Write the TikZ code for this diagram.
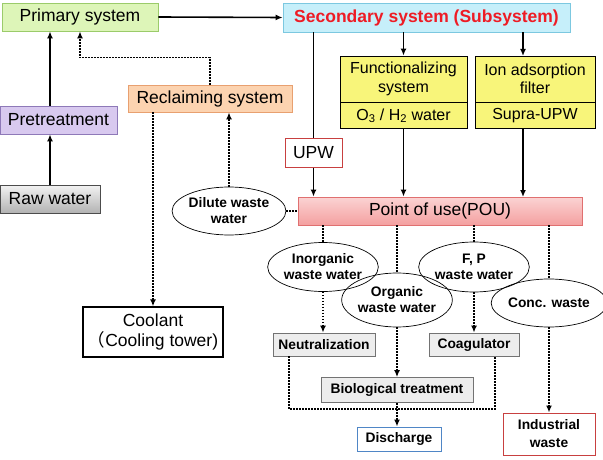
\documentclass[tikz,border=0pt]{standalone}
\usepackage{fontspec}
\setmainfont{Liberation Sans}
\newfontfamily\cjk{Noto Sans CJK JP}
\usetikzlibrary{arrows.meta,shapes.geometric,positioning}
\definecolor{primfill}{HTML}{DDF5B8}
\definecolor{primline}{HTML}{9BCB6A}
\definecolor{secfill}{HTML}{C6EFFA}
\definecolor{secline}{HTML}{7CC8E0}
\definecolor{prefill}{HTML}{D8C9EF}
\definecolor{preline}{HTML}{8E79B8}
\definecolor{reclfill}{HTML}{FCD3B0}
\definecolor{reclline}{HTML}{E8A070}
\definecolor{poutop}{HTML}{FBD3D3}
\definecolor{poubot}{HTML}{F4A0A0}
\definecolor{pouline}{HTML}{E07070}
\definecolor{redline}{HTML}{C84040}
\definecolor{yellowfill}{HTML}{F8F57A}
\definecolor{disline}{HTML}{4F86C6}
\definecolor{secred}{HTML}{EE1C25}
\tikzset{font=\fontsize{17.5}{20}\selectfont}
\tikzset{box/.style={draw,inner sep=0pt,line width=0.8pt}}
\tikzset{subbox/.style={box,draw=black,fill=yellowfill,minimum width=#1,
  font=\fontsize{16}{18.5}\selectfont,align=center}}
\tikzset{wastebox/.style={box,draw=black!55,fill=black!7,minimum height=23,
  font=\bfseries\fontsize{13.8}{16}\selectfont}}
\tikzset{blob/.style={draw,ellipse,inner sep=0pt,line width=0.7pt,align=center,
  font=\bfseries\fontsize{13.8}{16}\selectfont}}
\tikzset{feed/.style={line width=1.6pt,-{Latex[length=7pt,width=6pt]}}}
\tikzset{flow/.style={line width=1.6pt,dash pattern=on 1.6pt off 1.4pt}}
\tikzset{flowarrow/.style={flow,-{Latex[length=7pt,width=6pt]}}}

\begin{document}
\begin{tikzpicture}[x=1pt,y=-1pt]
\useasboundingbox (0,0) rectangle (603,460);
\node[box,draw=primline,fill=primfill,minimum width=156,minimum height=28] (prim) at (80,17) {Primary system};
\node[box,draw=secline,fill=secfill,minimum width=287,minimum height=29,text=secred,font=\bfseries\fontsize{17.5}{20}\selectfont] (sec) at (426.5,17.5) {Secondary system (Subsystem)};
\node[box,draw=preline,fill=prefill,minimum width=117,minimum height=28] (pre) at (58.5,120) {Pretreatment};
\node[box,draw=black!70,top color=black!5,bottom color=black!30,minimum width=100,minimum height=28] (raw) at (50,199) {Raw water};
\node[box,draw=reclline,fill=reclfill,minimum width=164,minimum height=27] (recl) at (210,98.5) {Reclaiming system};
\node[box,draw=black,line width=1.3pt,minimum width=140,minimum height=50,align=center] (cool) at (153,332) {Coolant\\{\cjk （}Cooling tower)};
\node[box,draw=redline,line width=1pt,fill=white,minimum width=57,minimum height=29] (upw) at (313.5,152.5) {UPW};
\node[subbox=127,minimum height=46] (func) at (403.5,79) {Functionalizing\\system};
\node[subbox=127,minimum height=26,below=0pt of func] (ozone) {O\textsubscript{3} / H\textsubscript{2} water};
\node[subbox=120,minimum height=46] (ion) at (535,79) {Ion adsorption\\filter};
\node[subbox=120,minimum height=26,below=0pt of ion] (supra) {Supra-UPW};
\node[box,draw=pouline,top color=poutop,bottom color=poubot,minimum width=284,minimum height=28] (pou) at (440,211) {Point of use(POU)};
\node[blob,minimum width=108,minimum height=48] (dil) at (229,211) {Dilute waste\\water};
\node[blob,minimum width=97,minimum height=49] (inorg) at (323,267) {Inorganic\\waste water};
\node[blob,minimum width=99,minimum height=54] (org) at (397,300) {Organic\\waste water};
\node[blob,minimum width=98,minimum height=50] (fp) at (474,267) {F, P\\waste water};
\node[blob,minimum width=98,minimum height=48] (conc) at (549,303) {Conc. waste};
\node[wastebox,minimum width=102] (neut) at (324,344.5) {Neutralization};
\node[wastebox,minimum width=90] (coag) at (474,344.5) {Coagulator};
\node[wastebox,minimum width=152,minimum height=25] (bio) at (397,390) {Biological treatment};
\node[box,draw=disline,line width=1pt,fill=white,minimum width=84,minimum height=24,font=\bfseries\fontsize{13.8}{16}\selectfont] (dis) at (399,439) {Discharge};
\node[box,draw=redline,line width=1pt,fill=white,minimum width=92,minimum height=42,align=center,font=\bfseries\fontsize{13.8}{18}\selectfont] (ind) at (549,434) {Industrial\\waste};
\coordinate (mix) at (397,409);
\draw[feed] (raw.north) -- (raw.north |- pre.south);
\draw[feed] (pre.north -| raw.north) -- (raw.north |- prim.south);
\draw[feed] (prim.east) -- (sec.west);
\draw[flowarrow] (recl.north) -- ++(0,-27) -| (prim.south);
\draw[flowarrow] (recl.south -| cool.north) -- (cool.north);
\draw[flowarrow] (dil.north) -- (dil.north |- recl.south);
\draw[flow] (dil.east) -- (pou.west);
\draw[line width=1.6pt] (sec.south -| upw.north) -- (upw.north);
\draw[feed] (upw.south) -- (upw.south |- pou.north);
\draw[feed] (sec.south -| func.north) -- (func.north);
\draw[feed] (ozone.south) -- (ozone.south |- pou.north);
\draw[feed] (sec.south -| 523,0) -- (523,56);
\draw[feed] (523,128) -- (523,197);
\draw[flow] (pou.south -| inorg.north) -- (inorg.north);
\draw[flow] (pou.south -| org.north) -- (org.north);
\draw[flow] (pou.south -| fp.north) -- (fp.north);
\draw[flow] (pou.south -| conc.north) -- (conc.north);
\draw[flowarrow] (inorg.south) -- (inorg.south |- neut.north);
\draw[flowarrow] (org.south) -- (org.south |- bio.north);
\draw[flowarrow] (fp.south) -- (fp.south |- coag.north);
\draw[flow] ([xshift=-35pt]neut.south) |- (mix) -| ([xshift=21pt]coag.south);
\draw[flowarrow] (bio.south) -- (bio.south |- dis.north);
\draw[flowarrow] (conc.south) -- (conc.south |- ind.north);
\end{tikzpicture}
\end{document}
